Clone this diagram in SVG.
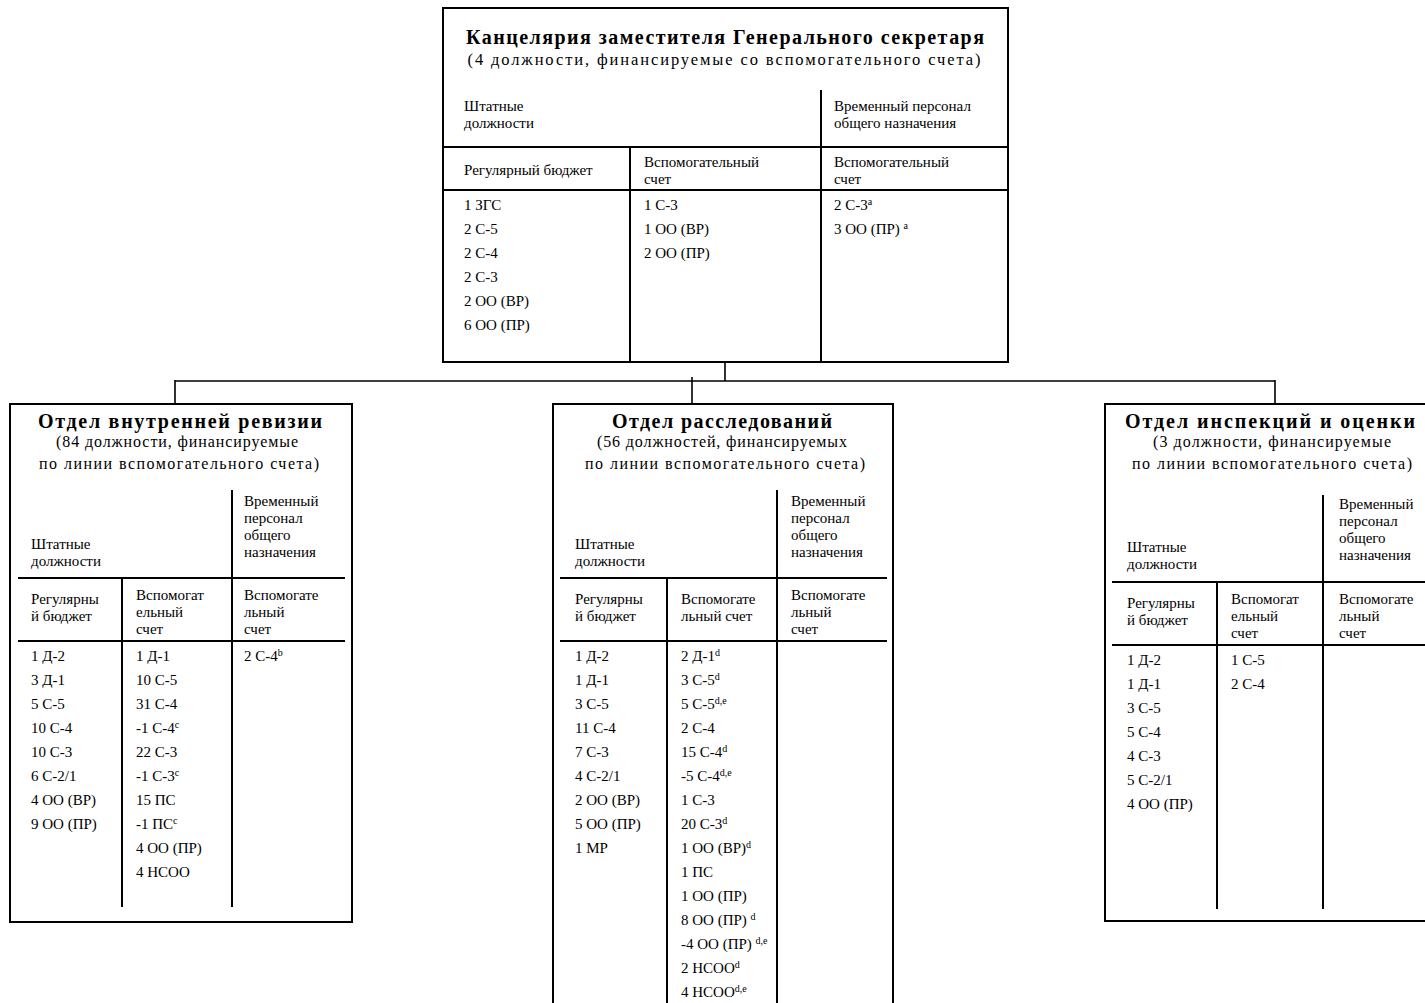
<svg xmlns="http://www.w3.org/2000/svg" width="1425" height="1003" viewBox="0 0 1425 1003">
<style>
.box{fill:#fff;stroke:#000;stroke-width:2}
.ln{stroke:#000;stroke-width:2;fill:none}
.con{stroke:#000;stroke-width:1.6;fill:none}
text{font-family:"Liberation Serif","Times New Roman",serif;font-size:15px;fill:#000}
.ttl{font-weight:bold;font-size:20px;text-anchor:middle}
.sub{font-size:16.5px;text-anchor:middle}
.sub2{font-size:16px;text-anchor:middle}
.sup{font-size:10px}
</style>
<rect width="1425" height="1003" fill="#fff"/>

<g id="connectors">
<path class="con" d="M725,362 V381 M175,381 H1275 M175,380 V404 M692,377 V404 M1275,380 V404"/>
</g>

<g id="node-top">
<rect class="box" x="443" y="8" width="565" height="354"/>
<text class="ttl" x="725" y="44" textLength="518" lengthAdjust="spacing">Канцелярия заместителя Генерального секретаря</text>
<text class="sub" x="724" y="65" textLength="513" lengthAdjust="spacing">(4 должности, финансируемые со вспомогательного счета)</text>
<line class="ln" x1="821" y1="90" x2="821" y2="362"/>
<line class="ln" x1="443" y1="147" x2="1008" y2="147"/>
<line class="ln" x1="443" y1="190" x2="1008" y2="190"/>
<line class="ln" x1="630" y1="147" x2="630" y2="362"/>
<text x="464" y="111">Штатные</text>
<text x="464" y="128">должности</text>
<text x="834" y="111">Временный персонал</text>
<text x="834" y="128">общего назначения</text>
<text x="464" y="175">Регулярный бюджет</text>
<text x="644" y="167">Вспомогательный</text>
<text x="644" y="184">счет</text>
<text x="834" y="167">Вспомогательный</text>
<text x="834" y="184">счет</text>
<text x="464" y="210">1 ЗГС</text>
<text x="464" y="234">2 С-5</text>
<text x="464" y="258">2 С-4</text>
<text x="464" y="282">2 С-3</text>
<text x="464" y="306">2 ОО (ВР)</text>
<text x="464" y="330">6 ОО (ПР)</text>
<text x="644" y="210">1 С-3</text>
<text x="644" y="234">1 ОО (ВР)</text>
<text x="644" y="258">2 ОО (ПР)</text>
<text x="834" y="210">2 С-3<tspan class="sup" dy="-5">a</tspan></text>
<text x="834" y="234">3 ОО (ПР) <tspan class="sup" dy="-5">a</tspan></text>
</g>

<g id="node-audit">
<rect class="box" x="10" y="404" width="342" height="518"/>
<text class="ttl" x="180" y="428" textLength="284" lengthAdjust="spacing">Отдел внутренней ревизии</text>
<text class="sub2" x="177" y="447" textLength="242" lengthAdjust="spacing">(84 должности, финансируемые</text>
<text class="sub2" x="179" y="469" textLength="280" lengthAdjust="spacing">по линии вспомогательного счета)</text>
<line class="ln" x1="232" y1="490" x2="232" y2="907"/>
<line class="ln" x1="18" y1="578" x2="345" y2="578"/>
<line class="ln" x1="18" y1="641" x2="345" y2="641"/>
<line class="ln" x1="122" y1="578" x2="122" y2="907"/>
<text x="31" y="549">Штатные</text>
<text x="31" y="566">должности</text>
<text x="244" y="506">Временный</text>
<text x="244" y="523">персонал</text>
<text x="244" y="540">общего</text>
<text x="244" y="557">назначения</text>
<text x="31" y="604">Регулярны</text>
<text x="31" y="621">й бюджет</text>
<text x="136" y="600">Вспомогат</text>
<text x="136" y="617">ельный</text>
<text x="136" y="634">счет</text>
<text x="244" y="600">Вспомогате</text>
<text x="244" y="617">льный</text>
<text x="244" y="634">счет</text>
<text x="31" y="661">1 Д-2</text>
<text x="31" y="685">3 Д-1</text>
<text x="31" y="709">5 С-5</text>
<text x="31" y="733">10 С-4</text>
<text x="31" y="757">10 С-3</text>
<text x="31" y="781">6 С-2/1</text>
<text x="31" y="805">4 ОО (ВР)</text>
<text x="31" y="829">9 ОО (ПР)</text>
<text x="136" y="661">1 Д-1</text>
<text x="136" y="685">10 С-5</text>
<text x="136" y="709">31 С-4</text>
<text x="136" y="733">-1 С-4<tspan class="sup" dy="-5">c</tspan></text>
<text x="136" y="757">22 С-3</text>
<text x="136" y="781">-1 С-3<tspan class="sup" dy="-5">c</tspan></text>
<text x="136" y="805">15 ПС</text>
<text x="136" y="829">-1 ПС<tspan class="sup" dy="-5">c</tspan></text>
<text x="136" y="853">4 ОО (ПР)</text>
<text x="136" y="877">4 НСОО</text>
<text x="244" y="661">2 С-4<tspan class="sup" dy="-5">b</tspan></text>
</g>

<g id="node-investigations">
<rect class="box" x="553" y="404" width="340" height="610"/>
<text class="ttl" x="722" y="428" textLength="220" lengthAdjust="spacing">Отдел расследований</text>
<text class="sub2" x="722" y="447" textLength="250" lengthAdjust="spacing">(56 должностей, финансируемых</text>
<text class="sub2" x="725" y="469" textLength="280" lengthAdjust="spacing">по линии вспомогательного счета)</text>
<line class="ln" x1="777" y1="490" x2="777" y2="1003"/>
<line class="ln" x1="560" y1="578" x2="887" y2="578"/>
<line class="ln" x1="560" y1="641" x2="887" y2="641"/>
<line class="ln" x1="667" y1="578" x2="667" y2="1003"/>
<text x="575" y="549">Штатные</text>
<text x="575" y="566">должности</text>
<text x="791" y="506">Временный</text>
<text x="791" y="523">персонал</text>
<text x="791" y="540">общего</text>
<text x="791" y="557">назначения</text>
<text x="575" y="604">Регулярны</text>
<text x="575" y="621">й бюджет</text>
<text x="681" y="604">Вспомогате</text>
<text x="681" y="621">льный счет</text>
<text x="791" y="600">Вспомогате</text>
<text x="791" y="617">льный</text>
<text x="791" y="634">счет</text>
<text x="575" y="661">1 Д-2</text>
<text x="575" y="685">1 Д-1</text>
<text x="575" y="709">3 С-5</text>
<text x="575" y="733">11 С-4</text>
<text x="575" y="757">7 С-3</text>
<text x="575" y="781">4 С-2/1</text>
<text x="575" y="805">2 ОО (ВР)</text>
<text x="575" y="829">5 ОО (ПР)</text>
<text x="575" y="853">1 МР</text>
<text x="681" y="661">2 Д-1<tspan class="sup" dy="-5">d</tspan></text>
<text x="681" y="685">3 С-5<tspan class="sup" dy="-5">d</tspan></text>
<text x="681" y="709">5 С-5<tspan class="sup" dy="-5">d,e</tspan></text>
<text x="681" y="733">2 С-4</text>
<text x="681" y="757">15 С-4<tspan class="sup" dy="-5">d</tspan></text>
<text x="681" y="781">-5 С-4<tspan class="sup" dy="-5">d,e</tspan></text>
<text x="681" y="805">1 С-3</text>
<text x="681" y="829">20 С-3<tspan class="sup" dy="-5">d</tspan></text>
<text x="681" y="853">1 ОО (ВР)<tspan class="sup" dy="-5">d</tspan></text>
<text x="681" y="877">1 ПС</text>
<text x="681" y="901">1 ОО (ПР)</text>
<text x="681" y="925">8 ОО (ПР) <tspan class="sup" dy="-5">d</tspan></text>
<text x="681" y="949">-4 ОО (ПР) <tspan class="sup" dy="-5">d,e</tspan></text>
<text x="681" y="973">2 НСОО<tspan class="sup" dy="-5">d</tspan></text>
<text x="681" y="997">4 НСОО<tspan class="sup" dy="-5">d,e</tspan></text>
</g>

<g id="node-inspection">
<rect class="box" x="1105" y="404" width="330" height="517"/>
<text class="ttl" x="1270" y="428" textLength="290" lengthAdjust="spacing">Отдел инспекций и оценки</text>
<text class="sub2" x="1272" y="447" textLength="238" lengthAdjust="spacing">(3 должности, финансируемые</text>
<text class="sub2" x="1272" y="469" textLength="280" lengthAdjust="spacing">по линии вспомогательного счета)</text>
<line class="ln" x1="1323" y1="495" x2="1323" y2="909"/>
<line class="ln" x1="1112" y1="582" x2="1425" y2="582"/>
<line class="ln" x1="1112" y1="645" x2="1425" y2="645"/>
<line class="ln" x1="1217" y1="582" x2="1217" y2="909"/>
<text x="1127" y="552">Штатные</text>
<text x="1127" y="569">должности</text>
<text x="1339" y="509">Временный</text>
<text x="1339" y="526">персонал</text>
<text x="1339" y="543">общего</text>
<text x="1339" y="560">назначения</text>
<text x="1127" y="608">Регулярны</text>
<text x="1127" y="625">й бюджет</text>
<text x="1231" y="604">Вспомогат</text>
<text x="1231" y="621">ельный</text>
<text x="1231" y="638">счет</text>
<text x="1339" y="604">Вспомогате</text>
<text x="1339" y="621">льный</text>
<text x="1339" y="638">счет</text>
<text x="1127" y="665">1 Д-2</text>
<text x="1127" y="689">1 Д-1</text>
<text x="1127" y="713">3 С-5</text>
<text x="1127" y="737">5 С-4</text>
<text x="1127" y="761">4 С-3</text>
<text x="1127" y="785">5 С-2/1</text>
<text x="1127" y="809">4 ОО (ПР)</text>
<text x="1231" y="665">1 С-5</text>
<text x="1231" y="689">2 С-4</text>
</g>
</svg>
